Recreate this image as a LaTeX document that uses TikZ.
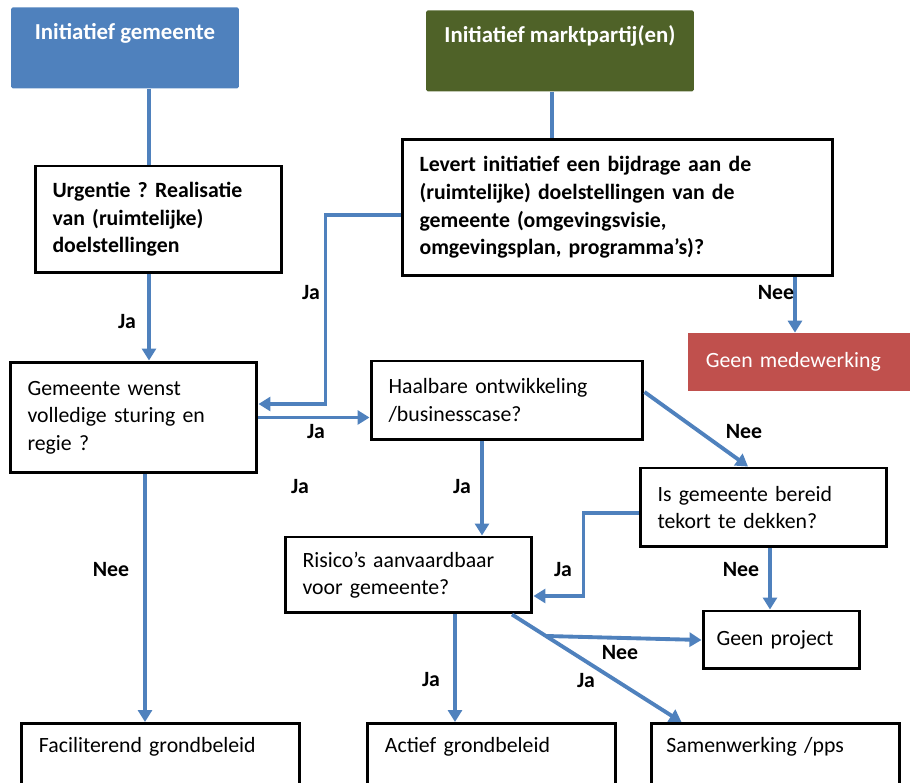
\documentclass[tikz,border=0pt]{standalone}
\usepackage{fontspec}
\setmainfont{Carlito}
\definecolor{flowblue}{RGB}{79,129,189}
\definecolor{flowolive}{RGB}{79,98,40}
\definecolor{flowred}{RGB}{192,80,77}
\usetikzlibrary{calc}
\usetikzlibrary{arrows.meta}
\tikzset{
  box/.style={draw, line width=1.7pt, align=left, inner xsep=0.35cm, inner ysep=0pt},
  boldbox/.style={box, font=\bfseries},
  startbox/.style={fill=#1, text=white, font=\bfseries\fontsize{13}{15}\selectfont, rounded corners=1pt, anchor=north, align=center, text height=0.44cm, text depth=0.78cm, inner ysep=0.2cm},
  endbox/.style={box, anchor=north west, text height=0.3cm, text depth=1.2cm, inner ysep=0.28cm},
  flow/.style={draw=flowblue, line width=2.2pt},
  arr/.style={flow, -{Triangle[length=0.24cm,width=0.28cm]}},
  lbl/.style={font=\bfseries, inner sep=0pt},
}
\begin{document}
\frenchspacing
\fontsize{12.4pt}{15.7pt}\selectfont
\begin{tikzpicture}[x=0.02cm, y=-0.02cm]
  \useasboundingbox (0,0) rectangle (910,783);
  \clip (0,0) rectangle (910,783);

  % start
  \node [startbox=flowblue, minimum width=4.56cm] (initG) at (125,7) {Initiatief gemeente};
  \node [startbox=flowolive, minimum width=5.36cm] (initM) at (560,10) {Initiatief marktpartij(en)};

  % questions
  \node [boldbox, text width=4.24cm, minimum height=2.14cm] (urg) at (158.5,219.5) {Urgentie ? Realisatie\\van (ruimtelijke)\\doelstellingen};
  \node [boldbox, text width=7.92cm, minimum height=2.74cm] (lev) at (617.5,207.5) {Levert initiatief een bijdrage aan de\\(ruimtelijke) doelstellingen van de\\gemeente (omgevingsvisie,\\omgevingsplan, programma’s)?};
  \node [fill=flowred, text=white, anchor=west, align=left, text width=4.34cm, inner xsep=0.35cm, minimum height=1.16cm] (gm) at (688,362) {Geen medewerking};
  \node [box, text width=4.24cm, minimum height=2.22cm] (wenst) at (133.5,417.5) {Gemeente wenst\\volledige sturing en\\regie ?};
  \node [box, text width=4.74cm, minimum height=1.58cm] (haal) at (507,400.5) {Haalbare ontwikkeling\\/businesscase?};
  \node [box, text width=4.24cm, minimum height=1.58cm] (bereid) at (763.5,507.5) {Is gemeente bereid\\tekort te dekken?};
  \node [box, text width=4.24cm, minimum height=1.52cm] (risico) at (408.5,575) {Risico’s aanvaardbaar\\voor gemeente?};
  \node [box, text width=2.6cm, inner xsep=0.27cm, minimum height=1.16cm] (gp) at (781.5,640) {Geen project};

  % outcomes
  \node [endbox, text width=4.86cm] (fac) at (20,722) {Faciliterend grondbeleid};
  \node [endbox, text width=4.26cm] (act) at (366,722) {Actief grondbeleid};
  \node [endbox, text width=4.36cm, inner xsep=0.3cm] (sam) at (650,722) {Samenwerking /pps};

  \coordinate (urgIn) at ([xshift=-0.19cm]urg.north);
  \coordinate (urgOut) at ([xshift=-0.19cm]urg.south);
  \coordinate (levIn) at ([xshift=-0.16cm]initM.south);
  \coordinate (levOut) at ([xshift=3.55cm]lev.south);
  \coordinate (wenstOut) at ([xshift=0.23cm]wenst.south);
  \coordinate (haalOut) at ([xshift=-0.5cm]haal.south);
  \coordinate (bereidOut) at ([xshift=0.13cm]bereid.south);
  \coordinate (risOut) at ([xshift=0.93cm]risico.south);

  \draw [flow] (initG.south -| urgIn) -- (urgIn);
  \draw [flow] (levIn) -- (levIn |- lev.north);
  \draw [arr] (urgOut) -- (urgOut |- wenst.north);
  \draw [arr] ([yshift=-0.15cm]lev.west) -- ++(-75,0) |- ([yshift=0.27cm]wenst.east);
  \draw [arr] (levOut) -- (levOut |- gm.north);
  \draw [arr] (wenst.east) -- (wenst.east -| haal.west);
  \draw [arr] (wenstOut) -- (wenstOut |- fac.north);
  \draw [arr] (haalOut) -- (haalOut |- risico.north);
  \draw [arr] ([yshift=0.17cm]haal.east) -- ([xshift=-0.31cm]bereid.north);
  \draw [arr] ([yshift=-0.11cm]bereid.west) -- ++(-55,0) |- ([yshift=-0.42cm]risico.east);
  \draw [arr] (bereidOut) -- (bereidOut |- gp.north);
  \draw [arr] (risOut) -- (risOut |- act.north);
  \draw [arr] ([xshift=2.07cm]risico.south) -- coordinate[pos=0.2] (split) ([xshift=-1.88cm]sam.north);
  \draw [arr] (split) -- (gp.west);

  % labels
  \node [lbl] (jaUrg) at (127,322) {Ja};
  \node [lbl] (jaLev) at (311,293) {Ja};
  \node [lbl] (neeLev) at (776,293) {Nee};
  \node [lbl] (jaWenst) at (316,432) {Ja};
  \node [lbl] (jaLoose) at (300,487) {Ja};
  \node [lbl] (jaHaal) at (462,487) {Ja};
  \node [lbl] (neeHaal) at (744,432) {Nee};
  \node [lbl] (jaBereid) at (563,570) {Ja};
  \node [lbl] (neeBereid) at (741,570) {Nee};
  \node [lbl] (neeWenst) at (111,570) {Nee};
  \node [lbl] (jaAct) at (431,680) {Ja};
  \node [lbl] (jaSam) at (586,681) {Ja};
  \node [lbl] (neeRis) at (620,653) {Nee};
\end{tikzpicture}
\end{document}
